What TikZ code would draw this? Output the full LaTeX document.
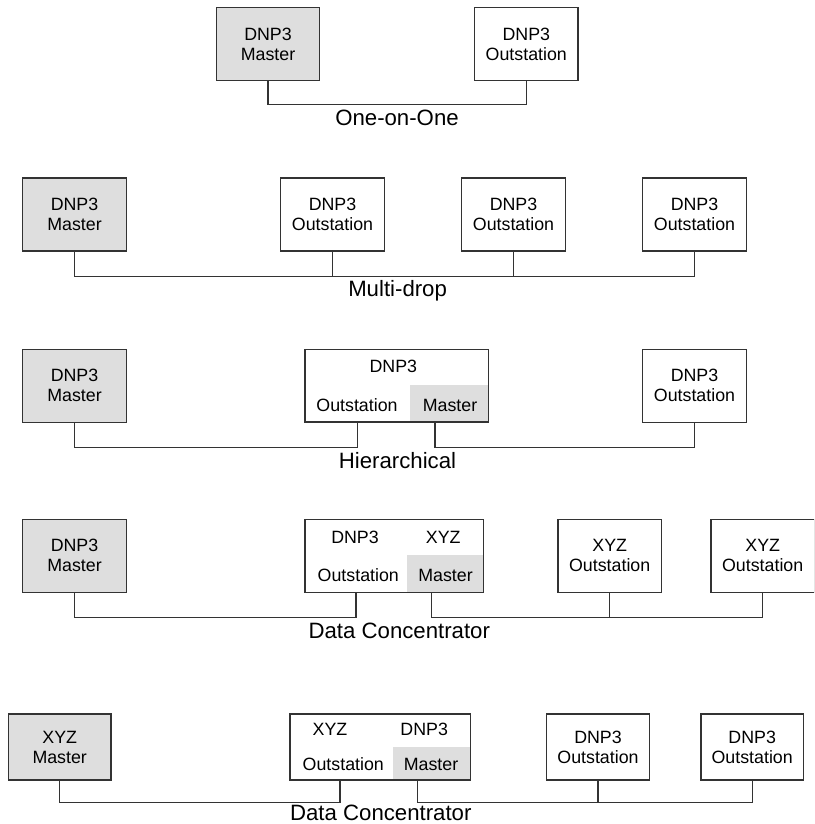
\documentclass[tikz,border=0pt]{standalone}
\usepackage{fontspec}
\setmainfont{Liberation Sans}
\usetikzlibrary{calc}
\definecolor{edgegray}{HTML}{333333}
\definecolor{masterfill}{HTML}{DEDEDE}
\newcommand{\dnpboxfont}{\fontsize{17.8pt}{20pt}\selectfont}
\newcommand{\dnpcapfont}{\fontsize{22.2pt}{26pt}\selectfont}
\begin{document}
\begin{tikzpicture}[x=1pt,y=-1pt,
  box/.style={draw=edgegray, line width=1.4pt, minimum width=103.5pt,
    minimum height=73pt, inner sep=0pt, align=center, font=\dnpboxfont},
  smallbox/.style={box, minimum width=102.7pt, minimum height=66pt},
  master/.style={fill=masterfill},
  hubbox/.style={draw=edgegray, line width=1.4pt, inner sep=0pt},
  shade/.style={fill=masterfill, inner sep=0pt, anchor=south east},
  word/.style={anchor=base, inner sep=0pt, font=\dnpboxfont},
  captext/.style={anchor=base, inner sep=0pt, font=\dnpcapfont},
  link/.style={draw=edgegray, line width=1.4pt}]
\useasboundingbox (0,0) rectangle (814,824);
\clip (0,0) rectangle (814,824);

% ---- One-on-One
\node[box, master] (m1) at (268,44) {DNP3\\Master};
\node[box] (o1) at (526.3,44) {DNP3\\Outstation};
\draw[link] (m1.south) -- ++(0,23.3) coordinate (b1) -| (o1.south);
\node[captext] (c1) at (397,125) {One-on-One};

% ---- Multi-drop
\node[box, master] (m2) at (74.5,214.5) {DNP3\\Master};
\node[box] (o2a) at (332.5,214.5) {DNP3\\Outstation};
\node[box] (o2b) at (513.5,214.5) {DNP3\\Outstation};
\node[box] (o2c) at (694.5,214.5) {DNP3\\Outstation};
\draw[link] (m2.south) -- ++(0,25) coordinate (b2) -| (o2c.south);
\draw[link] (o2a.south) -- (o2a.south |- b2);
\draw[link] (o2b.south) -- (o2b.south |- b2);
\node[captext] (c2) at (397.6,296.5) {Multi-drop};

% ---- Hierarchical
\node[box, master] (m3) at (74.5,385.8) {DNP3\\Master};
\node[shade, minimum width=78.3pt, minimum height=37pt] (g3) at (488.3,422) {};
\node[hubbox, minimum width=183.3pt, minimum height=72.7pt] (h3) at (396.7,385.7) {};
\node[word] (h3t) at (393.3,372) {DNP3};
\node[word] (h3os) at (357,411.7) {Outstation};
\node[word] (h3ms) at (450,411.7) {Master};
\coordinate (h3o) at ($(h3.south west)+(53.3,0)$);
\coordinate (h3m) at ($(h3.south west)+(130.7,0)$);
\node[box] (o3) at (694.5,385.8) {DNP3\\Outstation};
\draw[link] (m3.south) -- ++(0,24.5) coordinate (b3) -| (h3o);
\draw[link] (h3m) -- (h3m |- b3) -| (o3.south);
\node[captext] (c3) at (397.5,468) {Hierarchical};

% ---- Data Concentrator (DNP3 to XYZ)
\node[box, master] (m4) at (74.5,555.7) {DNP3\\Master};
\node[shade, minimum width=76pt, minimum height=37.3pt] (g4) at (483.3,592.3) {};
\node[hubbox, minimum width=178.3pt, minimum height=73pt] (h4) at (394.2,555.8) {};
\node[word] (h4t1) at (355,543.3) {DNP3};
\node[word] (h4t2) at (443.3,543.3) {XYZ};
\node[word] (h4os) at (358.3,581.7) {Outstation};
\node[word] (h4ms) at (445.5,581.7) {Master};
\coordinate (h4o) at ($(h4.south west)+(51.7,0)$);
\coordinate (h4m) at ($(h4.south west)+(127.3,0)$);
\node[box] (o4a) at (609.7,555.7) {XYZ\\Outstation};
\node[box] (o4b) at (762.7,555.7) {XYZ\\Outstation};
\draw[link] (m4.south) -- ++(0,24.7) coordinate (b4) -| (h4o);
\draw[link] (h4m) -- (h4m |- b4) -| (o4b.south);
\draw[link] (o4a.south) -- (o4a.south |- b4);
\node[captext] (c4) at (399.3,638.3) {Data Concentrator};

% ---- Data Concentrator (XYZ to DNP3)
\node[smallbox, master] (m5) at (59.7,747) {XYZ\\Master};
\node[shade, minimum width=77.4pt, minimum height=32.7pt] (g5) at (470.7,780) {};
\node[hubbox, minimum width=180.7pt, minimum height=66pt] (h5) at (380.3,747) {};
\node[word] (h5t1) at (330,735) {XYZ};
\node[word] (h5t2) at (424.2,735) {DNP3};
\node[word] (h5os) at (343.3,770.7) {Outstation};
\node[word] (h5ms) at (431,770.7) {Master};
\coordinate (h5o) at ($(h5.south west)+(50.7,0)$);
\coordinate (h5m) at ($(h5.south west)+(128.3,0)$);
\node[smallbox] (o5a) at (598,747) {DNP3\\Outstation};
\node[smallbox] (o5b) at (752.2,747) {DNP3\\Outstation};
\draw[link] (m5.south) -- ++(0,22) coordinate (b5) -| (h5o);
\draw[link] (h5m) -- (h5m |- b5) -| (o5b.south);
\draw[link] (o5a.south) -- (o5a.south |- b5);
\node[captext] (c5) at (380.8,820.5) {Data Concentrator};
\end{tikzpicture}
\end{document}
